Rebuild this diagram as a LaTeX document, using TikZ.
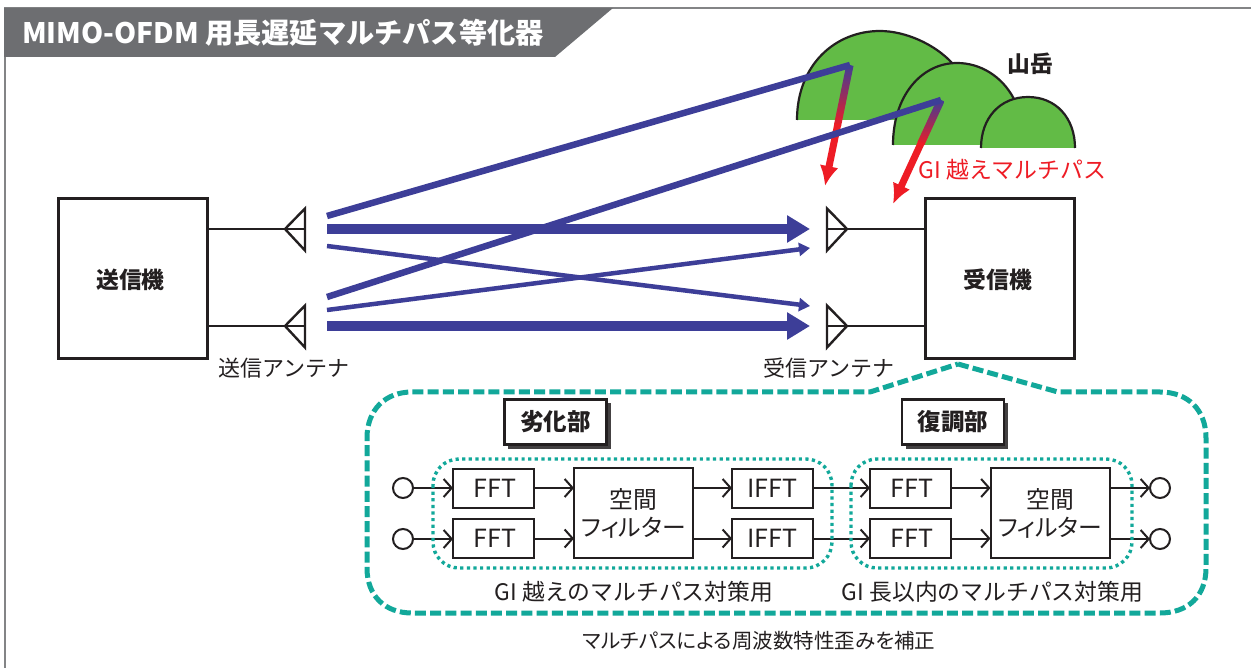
\documentclass[tikz,border=0pt]{standalone}
\usepackage{fontspec}
\setmainfont{Noto Sans CJK JP}
\usetikzlibrary{arrows.meta,calc}
\definecolor{ink}{HTML}{231F20}
\definecolor{raycol}{HTML}{3D3E98}
\definecolor{redcol}{HTML}{EE1C25}
\definecolor{teal1}{HTML}{12A89A}
\definecolor{hillcol}{HTML}{62BB46}
\definecolor{headcol}{HTML}{6D6E71}
\tikzset{
  x=1pt,y=-1pt,
  every node/.style={inner sep=0pt,outer sep=0pt,text=ink},
  mainbox/.style={draw=ink,line width=3pt,fill=white,minimum width=149pt,minimum height=160pt},
  boldlbl/.style={font=\fontsize{22.8}{26}\selectfont\bfseries},
  titlebox/.style={draw=ink,line width=2.5pt,fill=white,minimum width=102pt,minimum height=45pt,font=\fontsize{23.5}{26}\selectfont\bfseries},
  blockbox/.style={draw=ink,line width=2pt,fill=white,minimum width=81pt,minimum height=39pt,font=\fontsize{25}{26}\selectfont},
  spbox/.style={draw=ink,line width=2pt,fill=white,minimum width=119pt,minimum height=90pt,align=center,font=\addfontfeatures{RawFeature=+palt}\fontsize{23.8}{28}\selectfont},
  portc/.style={draw=ink,line width=2pt,circle,fill=white,minimum size=20pt},
  lbl/.style={font=\fontsize{22}{26}\selectfont},
  caplbl/.style={font=\fontsize{22.8}{26}\selectfont},
  thin line/.style={draw=ink,line width=2pt},
  flow/.style={draw=ink,line width=2pt,-{Straight Barb[length=8pt,width=18pt,line width=2pt]}},
  ant/.style={draw=ink,line width=2.4pt,miter limit=8},
  hill/.style={draw=ink,line width=2.2pt},
  teal dash/.style={draw=teal1,line width=5pt,dash pattern=on 11pt off 4.2pt},
  teal dot/.style={draw=teal1,line width=3.4pt,dash pattern=on 3.2pt off 3.4pt},
  bigray/.style={draw=raycol,line width=10.5pt},
  medray/.style={draw=raycol,line width=6.5pt},
  smallray/.style={draw=raycol,line width=4.5pt},
}
\begin{document}
\begin{tikzpicture}
\useasboundingbox (0,0) rectangle (1251,668);
\fill[white] (0,0) rectangle (1251,668);
% frame and header
\draw[draw=headcol!85!white,line width=2pt] (1251,8) -- (5,8) -- (5,668);
\fill[headcol] (4,8) -- (613,8) -- (555,57) -- (4,57) -- cycle;
\node[anchor=west,text=white,font=\fontsize{28.2}{32}\selectfont\bfseries] (title) at (22,33) {MIMO-OFDM 用長遅延マルチパス等化器};
% hills
\path[fill=hillcol] (797,120) .. controls (797,65) and (835,31) .. (880,31) .. controls (905,31) and (935,44) .. (953,64) -- (953,120) -- cycle;
\draw[hill] (797,120) .. controls (797,65) and (835,31) .. (880,31) .. controls (905,31) and (935,44) .. (953,64);
\path[fill=hillcol] (893,145) .. controls (893,95) and (922,63) .. (957,63) .. controls (980,63) and (1002,76) .. (1014,99) -- (1014,145) -- cycle;
\draw[hill] (893,145) .. controls (893,95) and (922,63) .. (957,63) .. controls (980,63) and (1002,76) .. (1014,99);
\path[fill=hillcol] (981,148) .. controls (981,118) and (1000,97) .. (1028,97) .. controls (1056,97) and (1075,118) .. (1075,148) -- cycle;
\draw[hill] (981,148) .. controls (981,118) and (1000,97) .. (1028,97) .. controls (1056,97) and (1075,118) .. (1075,148);
\node[boldlbl] (mtlabel) at (1030.5,64) {山岳};
\node[text=redcol,font=\fontsize{22.9}{26}\selectfont] (gilabel) at (1012.5,170) {GI 越えマルチパス};
% ray anchors
\coordinate (hA) at (850,65);
\coordinate (hB) at (941,100);
\coordinate (s1) at (327,216);
\coordinate (s2) at (327,229);
\coordinate (s3) at (327,246);
\coordinate (s4) at (327,297);
\coordinate (s5) at (327,310);
\coordinate (s6) at (327,326);
\coordinate (e2) at (810,229);
\coordinate (e3) at (810,306);
\coordinate (e5) at (810,248);
\coordinate (e6) at (810,326);
% red reflected arrows
\coordinate (tipA) at (825,186);
\coordinate (tipB) at (893,204);
\shade[top color=raycol,bottom color=redcol,draw=none]
  ($(hA)+(-3.5,-1)$) -- ($(hA)+(3.5,1)$) -- ($(hA)!0.5!(tipA)+(3.5,1)$) -- ($(hA)!0.5!(tipA)+(-3.5,-1)$) -- cycle;
\draw[redcol,line width=7pt,-{Latex[length=20pt,width=19pt]}] ($(hA)!0.49!(tipA)$) -- (tipA);
\shade[top color=raycol,bottom color=redcol,draw=none]
  ($(hB)+(-3.5,-1.5)$) -- ($(hB)+(3.5,1.5)$) -- ($(hB)!0.42!(tipB)+(3.5,1.5)$) -- ($(hB)!0.42!(tipB)+(-3.5,-1.5)$) -- cycle;
\draw[redcol,line width=7pt,-{Latex[length=20pt,width=19pt]}] ($(hB)!0.41!(tipB)$) -- (tipB);
% blue rays
\draw[medray,line join=round] (s1) -- (hA);
\draw[medray,line join=round] (s4) -- (hB);
\draw[bigray,-{Triangle[length=23pt,width=26pt,sep=0pt]}] (s2) -- (e2);
\draw[bigray,-{Triangle[length=23pt,width=26pt]}] (s6) -- (e6);
\draw[smallray,-{Triangle[length=11pt,width=13pt]}] (s3) -- (e3);
\draw[smallray,-{Triangle[length=11pt,width=13pt]}] (s5) -- (e5);
% main boxes
\node[mainbox] (tx) at (132.5,278.5) {};
\node[boldlbl] (txlabel) at (130.5,280) {送信機};
\node[mainbox] (rx) at (999.5,278.5) {};
\node[boldlbl] (rxlabel) at (998,280) {受信機};
% antennas
\coordinate (ta1) at (285,229);
\coordinate (ta2) at (285,326);
\coordinate (ra1) at (847,229);
\coordinate (ra2) at (847,326);
\draw[thin line] (tx.east |- ta1) -- (305,229);
\draw[thin line] (tx.east |- ta2) -- (305,326);
\draw[ant] (ta1) -- (305,208.5) -- (305,250.5) -- cycle;
\draw[ant] (ta2) -- (305,305.5) -- (305,347.5) -- cycle;
\draw[thin line] (rx.west |- ra1) -- (827,229);
\draw[thin line] (rx.west |- ra2) -- (827,326);
\draw[ant] (ra1) -- (827,208.5) -- (827,250.5) -- cycle;
\draw[ant] (ra2) -- (827,305.5) -- (827,347.5) -- cycle;
\node[lbl] (txant) at (284,368) {送信アンテナ};
\node[lbl] (rxant) at (829,368) {受信アンテナ};
% outer dashed balloon
\draw[teal dash] (958,364) -- (1058,392) -- (1160,392)
  .. controls (1188,392) and (1206,410) .. (1206,438) -- (1206,568)
  .. controls (1206,596) and (1188,613) .. (1160,613) -- (412,613)
  .. controls (385,613) and (367,596) .. (367,568) -- (367,438)
  .. controls (367,410) and (385,392) .. (412,392) -- (870,392) -- cycle;
% title boxes
\fill[ink!85!white] (508,403) rectangle (611,449);
\node[titlebox] (degr) at (555.5,422) {劣化部};
\fill[ink!85!white] (906,403) rectangle (1008,449);
\node[titlebox] (demod) at (953,422) {復調部};
% blocks
\node[portc] (c1) at (403,488) {};
\node[portc] (c2) at (403,539) {};
\node[blockbox] (f1) at (493.5,488) {\hspace{3pt}FFT};
\node[blockbox] (f2) at (493.5,538.5) {\hspace{3pt}FFT};
\node[spbox] (sp1) at (633.5,513) {空間\\フィルター};
\node[blockbox] (i1) at (772.5,488) {IFFT};
\node[blockbox] (i2) at (772.5,538.5) {IFFT};
\node[blockbox] (f3) at (910.5,488) {\hspace{3pt}FFT};
\node[blockbox] (f4) at (910.5,538.5) {\hspace{3pt}FFT};
\node[spbox] (sp2) at (1050,513) {空間\\フィルター};
\node[portc] (c3) at (1160,488) {};
\node[portc] (c4) at (1160,539) {};
% flows
\draw[flow] (c1) -- (f1);
\draw[flow] (c2) -- (c2 -| f2.west);
\draw[flow] (f1) -- (f1 -| sp1.west);
\draw[flow] (f2.east) -- (f2.east -| sp1.west);
\draw[flow] (sp1.east |- i1) -- (i1);
\draw[flow] (sp1.east |- i2) -- (i2);
\draw[flow] (i1) -- (f3);
\draw[flow] (i2) -- (f4);
\draw[flow] (f3) -- (f3 -| sp2.west);
\draw[flow] (f4) -- (f4 -| sp2.west);
\draw[flow] (sp2.east |- c3) -- (c3);
\draw[flow] (sp2.east |- c4) -- (c4);
% dotted groups
\draw[teal dot,rounded corners=26pt] (433,459) rectangle (832,568);
\draw[teal dot,rounded corners=26pt] (851,459) rectangle (1132,568);
% captions
\node[caplbl] (cap1) at (634,592) {GI 越えのマルチパス対策用};
\node[caplbl] (cap2) at (992.5,592) {GI 長以内のマルチパス対策用};
\node[font=\addfontfeatures{RawFeature=+palt}\fontsize{20.5}{24}\selectfont] (cap3) at (759,641) {マルチパスによる周波数特性歪みを補正};
\end{tikzpicture}
\end{document}
